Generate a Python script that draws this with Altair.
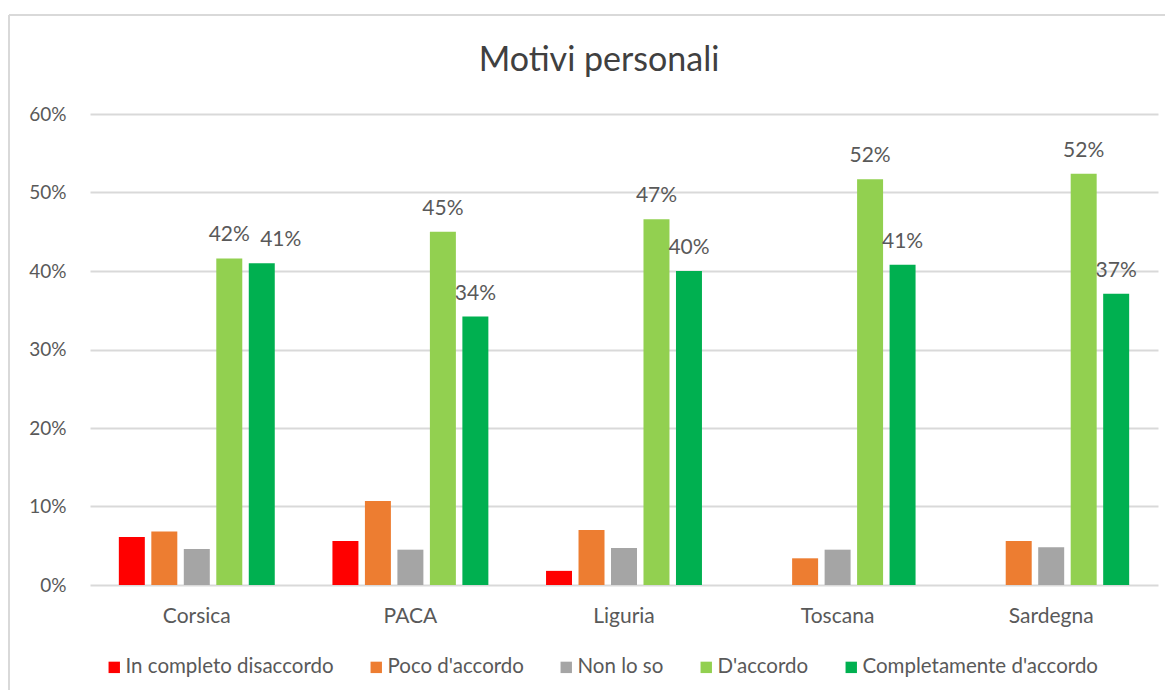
import altair as alt
import pandas as pd

regions = ["Corsica", "PACA", "Liguria", "Toscana", "Sardegna"]
series = ["In completo disaccordo", "Poco d'accordo", "Non lo so", "D'accordo", "Completamente d'accordo"]
colors = ["#FF0000", "#ED7D31", "#A5A5A5", "#92D050", "#00B050"]

in_completo_disaccordo = [0.061, 0.056, 0.018, 0.0, 0.0]
poco_accordo = [0.068, 0.107, 0.070, 0.034, 0.056]
non_lo_so = [0.046, 0.045, 0.047, 0.045, 0.048]
d_accordo = [0.416, 0.450, 0.466, 0.517, 0.524]
completamente_accordo = [0.410, 0.342, 0.400, 0.408, 0.371]

values_by_series = [in_completo_disaccordo, poco_accordo, non_lo_so, d_accordo, completamente_accordo]
labelled = ["D'accordo", "Completamente d'accordo"]
title_text = "Motivi personali"

rows = []
for s, vals in zip(series, values_by_series):
    for r, v in zip(regions, vals):
        rows.append({"region": r, "series": s, "value": v})
df = pd.DataFrame(rows)

FONT = "Lato"
TXT = "#595959"

x_enc = alt.X("region:N", sort=regions, title=None,
              scale=alt.Scale(paddingInner=0.27, paddingOuter=0.135),
              axis=alt.Axis(labelFontSize=21, labelColor=TXT, labelFont=FONT,
                            labelPadding=20, domain=False, ticks=False, labelAngle=0))
xo_enc = alt.XOffset("series:N", sort=series,
                     scale=alt.Scale(domain=series, paddingInner=0.2, paddingOuter=0))
y_enc = alt.Y("value:Q", title=None,
              scale=alt.Scale(domain=[0, 0.6], nice=False),
              axis=alt.Axis(format=".0%", values=[0, 0.1, 0.2, 0.3, 0.4, 0.5, 0.6],
                            labelFontSize=19, labelColor=TXT, labelFont=FONT,
                            labelPadding=24, domain=False, ticks=False,
                            gridColor="#d9d9d9", gridWidth=2))

bars = alt.Chart(df).mark_bar().encode(
    x=x_enc, xOffset=xo_enc, y=y_enc,
    color=alt.Color("series:N", sort=series,
                    scale=alt.Scale(domain=series, range=colors),
                    legend=alt.Legend(title=None, orient="none", direction="horizontal",
                                      legendX=14, legendY=543,
                                      symbolType="square", symbolSize=130,
                                      symbolStrokeWidth=0, labelFontSize=20.5,
                                      labelFont=FONT, labelColor=TXT, labelLimit=400,
                                      labelOffset=1, columnPadding=32)),
)

is_corsica_full = (alt.datum.region == "Corsica") & (alt.datum.series == "Completamente d'accordo")

labels = alt.Chart(df).transform_filter(
    alt.FieldOneOfPredicate(field="series", oneOf=labelled)
).transform_filter(~is_corsica_full).mark_text(
    baseline="alphabetic", dy=-17, fontSize=21, font=FONT, color=TXT).encode(
    x=alt.X("region:N", sort=regions),
    xOffset=alt.XOffset("series:N", sort=series),
    y=alt.Y("value:Q"),
    text=alt.Text("value:Q", format=".0%"),
)

label_shifted = alt.Chart(df).transform_filter(is_corsica_full).mark_text(
    baseline="alphabetic", dy=-17, dx=19, fontSize=21, font=FONT, color=TXT).encode(
    x=alt.X("region:N", sort=regions),
    xOffset=alt.XOffset("series:N", sort=series),
    y=alt.Y("value:Q"),
    text=alt.Text("value:Q", format=".0%"),
)

frame_df = pd.DataFrame({"k": [0]})
frame_left = alt.Chart(frame_df).mark_rule(color="#d9d9d9", strokeWidth=2).encode(
    x=alt.value(-81), y=alt.value(-99), y2=alt.value(600))
frame_top = alt.Chart(frame_df).mark_rule(color="#d9d9d9", strokeWidth=2).encode(
    x=alt.value(-81), x2=alt.value(1100), y=alt.value(-99))
title = alt.Chart(frame_df).mark_text(
    text=title_text, fontSize=34, font=FONT, color="#404040",
    align="center", baseline="alphabetic").encode(
    x=alt.value(509), y=alt.value(-43))

chart = alt.layer(bars, labels, label_shifted, frame_left, frame_top, title).properties(
    width=1068, height=471,
    padding={"left": 82, "top": 106, "right": 7, "bottom": 105},
    autosize=alt.AutoSizeParams(type="none"),
).configure_view(stroke=None)

chart.save("out.html", embed_options={"renderer": "svg", "actions": False})
